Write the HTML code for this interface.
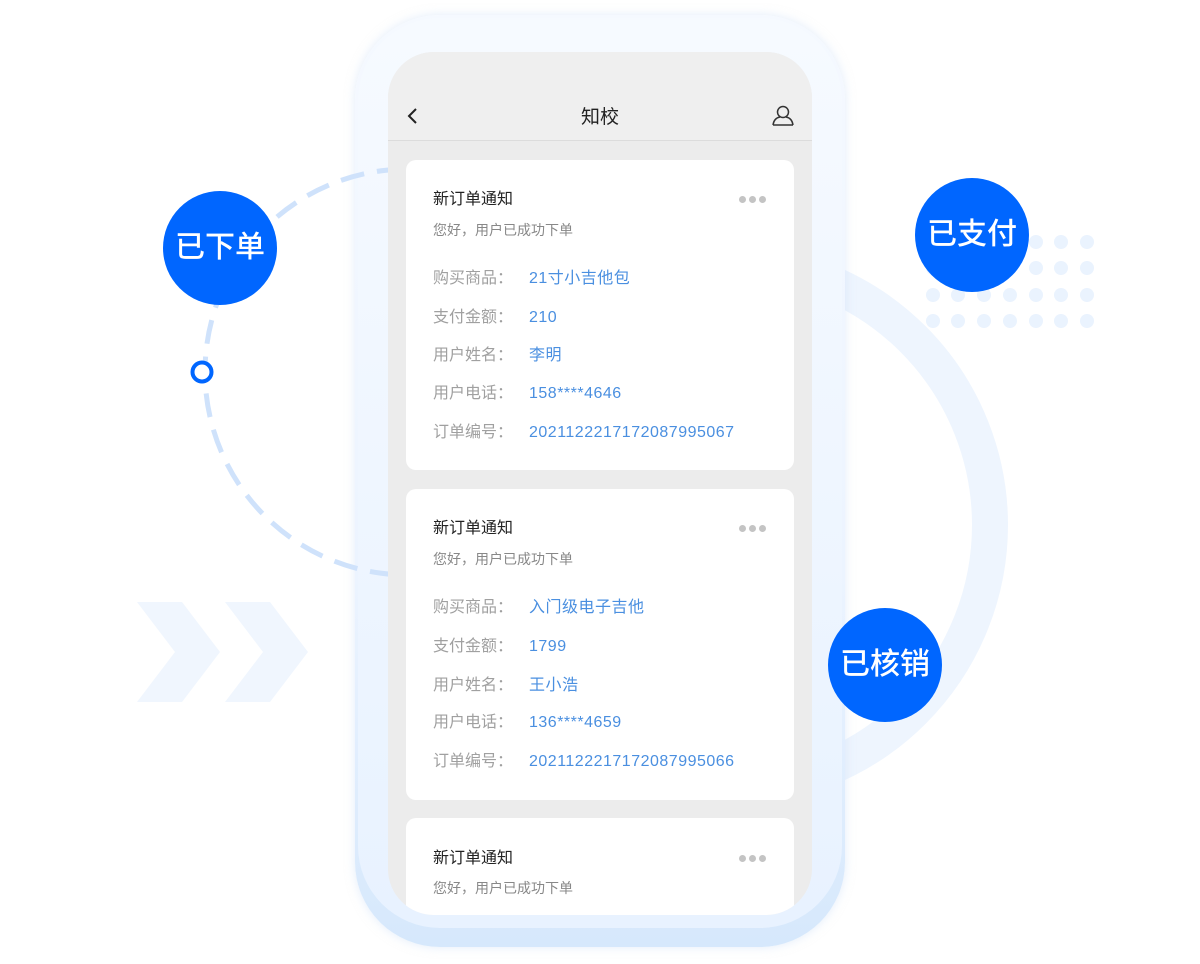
<!DOCTYPE html>
<html><head><meta charset="utf-8"><style>
*{margin:0;padding:0;box-sizing:border-box}
html,body{width:1200px;height:964px;overflow:hidden}
body{background:#fff;position:relative;font-family:"Liberation Sans","Noto Sans CJK SC",sans-serif}
.abs{position:absolute}
.frame{left:355px;top:15px;width:490px;height:932px;border-radius:85px;background:linear-gradient(180deg,#f5f9ff 0%,#ecf4ff 60%,#d6e8fc 100%);box-shadow:0 0 10px rgba(200,220,245,.5)}
.frame2{left:358px;top:18px;width:484px;height:910px;border-radius:82px;background:linear-gradient(180deg,#f6faff,#e8f2ff)}
.screen{left:388px;top:52px;width:424px;height:863px;border-radius:46px;background:#ececec;overflow:hidden}
.hdr{position:absolute;left:0;top:0;width:424px;height:89px;background:#efefef;border-bottom:1px solid #dcdcdc}
.hdr .t{position:absolute;left:0;width:424px;top:54px;line-height:24px;text-align:center;font-size:19px;color:#222}
.card{position:absolute;left:18px;width:388px;background:#fff;border-radius:10px}
.card div{line-height:20px;white-space:nowrap}
.ti{position:absolute;left:27px;font-size:16px;color:#222}
.sub{position:absolute;left:27px;font-size:14px;color:#888}
.lb{position:absolute;left:27px;font-size:16px;color:#a0a0a0}
.vl{position:absolute;left:123px;font-size:16px;color:#4a8fe0;letter-spacing:.5px}
.dots{position:absolute;left:333px;width:30px;height:8px}
.dots i{float:left;width:7px;height:7px;border-radius:50%;background:#c4c4c4;margin-right:3px}
.badge{position:absolute;width:114px;height:114px;border-radius:50%;background:#0066ff;color:#fff;font-size:30px;text-align:center;line-height:114px;font-weight:500}
</style></head><body>
<svg class="abs" style="left:0;top:0" width="1200" height="964">
<circle cx="727" cy="525" r="263" fill="none" stroke="#eef5fe" stroke-width="36"/>
<polygon points="137,602 182,602 220,652 182,702 137,702 175,652" fill="#f0f6fe"/>
<polygon points="225,602 270,602 308,652 270,702 225,702 263,652" fill="#f0f6fe"/>
<g fill="#eaf3fe">
<circle cx="933" cy="242" r="7"/><circle cx="958" cy="242" r="7"/><circle cx="984" cy="242" r="7"/><circle cx="1010" cy="242" r="7"/><circle cx="1036" cy="242" r="7"/><circle cx="1061" cy="242" r="7"/><circle cx="1087" cy="242" r="7"/>
<circle cx="933" cy="268" r="7"/><circle cx="958" cy="268" r="7"/><circle cx="984" cy="268" r="7"/><circle cx="1010" cy="268" r="7"/><circle cx="1036" cy="268" r="7"/><circle cx="1061" cy="268" r="7"/><circle cx="1087" cy="268" r="7"/>
<circle cx="933" cy="295" r="7"/><circle cx="958" cy="295" r="7"/><circle cx="984" cy="295" r="7"/><circle cx="1010" cy="295" r="7"/><circle cx="1036" cy="295" r="7"/><circle cx="1061" cy="295" r="7"/><circle cx="1087" cy="295" r="7"/>
<circle cx="933" cy="321" r="7"/><circle cx="958" cy="321" r="7"/><circle cx="984" cy="321" r="7"/><circle cx="1010" cy="321" r="7"/><circle cx="1036" cy="321" r="7"/><circle cx="1061" cy="321" r="7"/><circle cx="1087" cy="321" r="7"/>
</g>
</svg>
<div class="abs frame"></div>
<div class="abs frame2"></div>
<svg class="abs" style="left:0;top:0" width="1200" height="964">
<circle cx="408" cy="372" r="203" fill="none" stroke="#cfe2fb" stroke-width="5" stroke-dasharray="24 13"/>
<circle cx="202" cy="372" r="9.5" fill="#fff" stroke="#0066ff" stroke-width="4"/>
</svg>
<div class="abs screen">
 <div class="hdr">
  <svg style="position:absolute;left:18px;top:55px" width="14" height="18"><polyline points="10,2 3,9 10,16" fill="none" stroke="#222" stroke-width="2"/></svg>
  <div class="t">知校</div>
  <svg style="position:absolute;left:383px;top:53px" width="24" height="22"><circle cx="12" cy="7" r="5.5" fill="none" stroke="#333" stroke-width="1.5"/><path d="M2,20 Q3,13 9,12 M15,12 Q21,13 22,20 M2,20 L22,20" fill="none" stroke="#333" stroke-width="1.5"/></svg>
 </div>
 <div class="card" style="top:108px;height:310px">
  <div class="ti" style="top:30px">新订单通知</div><div class="dots" style="top:36px"><i></i><i></i><i></i></div>
  <div class="sub" style="top:60px">您好，用户已成功下单</div>
  <div class="lb" style="top:109px">购买商品：</div><div class="vl" style="top:109px">21寸小吉他包</div>
  <div class="lb" style="top:148px">支付金额：</div><div class="vl" style="top:148px">210</div>
  <div class="lb" style="top:186px">用户姓名：</div><div class="vl" style="top:186px">李明</div>
  <div class="lb" style="top:224px">用户电话：</div><div class="vl" style="top:224px">158****4646</div>
  <div class="lb" style="top:263px">订单编号：</div><div class="vl" style="top:263px">2021122217172087995067</div>
 </div>
 <div class="card" style="top:437px;height:311px">
  <div class="ti" style="top:30px">新订单通知</div><div class="dots" style="top:36px"><i></i><i></i><i></i></div>
  <div class="sub" style="top:60px">您好，用户已成功下单</div>
  <div class="lb" style="top:109px">购买商品：</div><div class="vl" style="top:109px">入门级电子吉他</div>
  <div class="lb" style="top:148px">支付金额：</div><div class="vl" style="top:148px">1799</div>
  <div class="lb" style="top:187px">用户姓名：</div><div class="vl" style="top:187px">王小浩</div>
  <div class="lb" style="top:224px">用户电话：</div><div class="vl" style="top:224px">136****4659</div>
  <div class="lb" style="top:263px">订单编号：</div><div class="vl" style="top:263px">2021122217172087995066</div>
 </div>
 <div class="card" style="top:766px;height:110px">
  <div class="ti" style="top:31px">新订单通知</div><div class="dots" style="top:37px"><i></i><i></i><i></i></div>
  <div class="sub" style="top:60px">您好，用户已成功下单</div>
 </div>
</div>
<div class="badge" style="left:163px;top:191px">已下单</div>
<div class="badge" style="left:915px;top:178px">已支付</div>
<div class="badge" style="left:828px;top:608px">已核销</div>
</body></html>
